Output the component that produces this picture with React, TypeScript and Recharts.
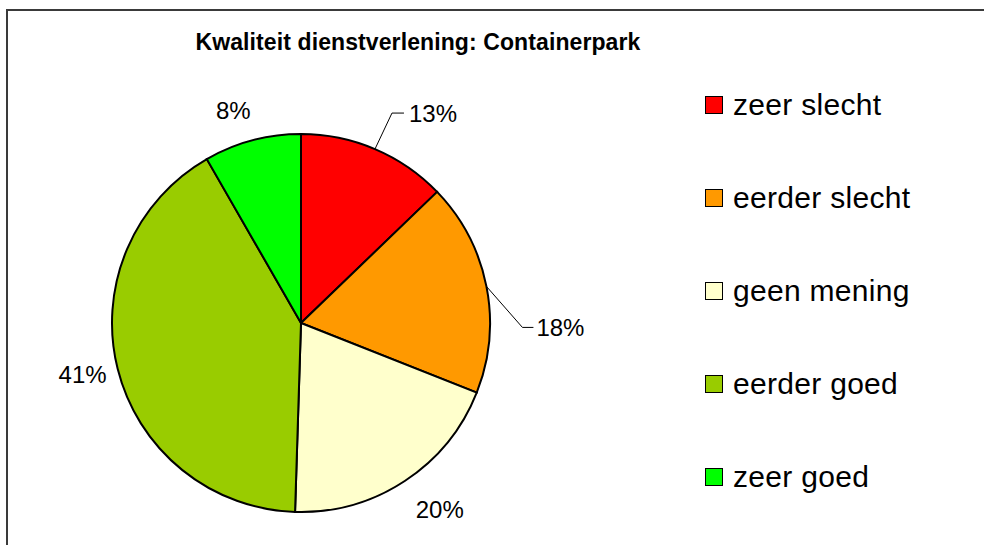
import { PieChart, Pie, Cell } from 'recharts';

const categories = ['zeer slecht', 'eerder slecht', 'geen mening', 'eerder goed', 'zeer goed'];
const shares = [12.8, 18.2, 19.5, 41.2, 8.3];
const colors = ['#FF0000', '#FF9900', '#FFFFCC', '#99CC00', '#00FF00'];

const data = categories.map((name, i) => ({ name, value: shares[i] }));

const FONT = '"Liberation Sans", Arial, sans-serif';
const RAD = Math.PI / 180;

// label placement relative to the slice's outer edge point
const LABEL_LAYOUT = [
  { dx: 34, dy: -36, anchor: 'start', leader: [[17, -36], [29, -36]] },
  { dx: 50, dy: 41, anchor: 'start', leader: [[36, 41], [47, 41]] },
  { dx: 35, dy: 29, anchor: 'middle', leader: null },
  { dx: -35, dy: 6, anchor: 'middle', leader: null },
  { dx: -19, dy: -30, anchor: 'middle', leader: null },
];

function renderLabel(props: any) {
  const { cx, cy, midAngle, outerRadius, percent, index } = props;
  const ex = cx + outerRadius * Math.cos(-midAngle * RAD);
  const ey = cy + outerRadius * Math.sin(-midAngle * RAD);
  const lay = LABEL_LAYOUT[index];
  return (
    <g key={`lbl-${index}`}>
      {lay.leader && (
        <polyline
          points={[[0, 0], ...lay.leader].map(([x, y]) => `${ex + x},${ey + y}`).join(' ')}
          fill="none"
          stroke="#000"
          strokeWidth={1}
        />
      )}
      <text
        x={ex + lay.dx}
        y={ey + lay.dy}
        textAnchor={lay.anchor as any}
        dominantBaseline="central"
        fontSize={24}
        fontFamily={FONT}
        fill="#000"
      >
        {`${Math.round(percent * 100)}%`}
      </text>
    </g>
  );
}

function LegendBox() {
  return (
    <div style={{ fontFamily: FONT }}>
      {categories.map((name, i) => (
        <div
          key={name}
          style={{ display: 'flex', alignItems: 'center', height: 93 }}
        >
          <span
            style={{
              width: 16,
              height: 16,
              background: colors[i],
              border: '1.5px solid #000',
              marginRight: 10,
              flexShrink: 0,
            }}
          />
          <span style={{ fontSize: 30, letterSpacing: 0.3, color: '#000', whiteSpace: 'nowrap' }}>{name}</span>
        </div>
      ))}
    </div>
  );
}

export default function App() {
  return (
    <div style={{ position: 'absolute', left: 0, top: 0, width: 984, height: 545, background: '#fff', overflow: 'hidden' }}>
      <div
        style={{
          position: 'absolute',
          left: 6,
          top: 9,
          width: 1000,
          height: 560,
          border: '2px solid #3a3a3a',
        }}
      />
      <div
        style={{
          position: 'absolute',
          left: 0,
          width: 836,
          top: 29,
          textAlign: 'center',
          fontFamily: FONT,
          fontWeight: 'bold',
          fontSize: 23,
          letterSpacing: 0.1,
          color: '#000',
        }}
      >
        Kwaliteit dienstverlening: Containerpark
      </div>
      <div style={{ position: 'absolute', left: 0, top: 0 }}>
        <PieChart width={984} height={545} margin={{ top: 0, right: 0, bottom: 0, left: 0 }}>
          <Pie
            data={data}
            dataKey="value"
            nameKey="name"
            cx={301}
            cy={323}
            outerRadius={189}
            startAngle={90}
            endAngle={-270}
            stroke="#000"
            strokeWidth={2}
            label={renderLabel}
            labelLine={false}
            isAnimationActive={false}
          >
            {data.map((d, i) => (
              <Cell key={d.name} fill={colors[i]} />
            ))}
          </Pie>
        </PieChart>
      </div>
      <div style={{ position: 'absolute', left: 705, top: 58, width: 270 }}>
        <LegendBox />
      </div>
    </div>
  );
}
